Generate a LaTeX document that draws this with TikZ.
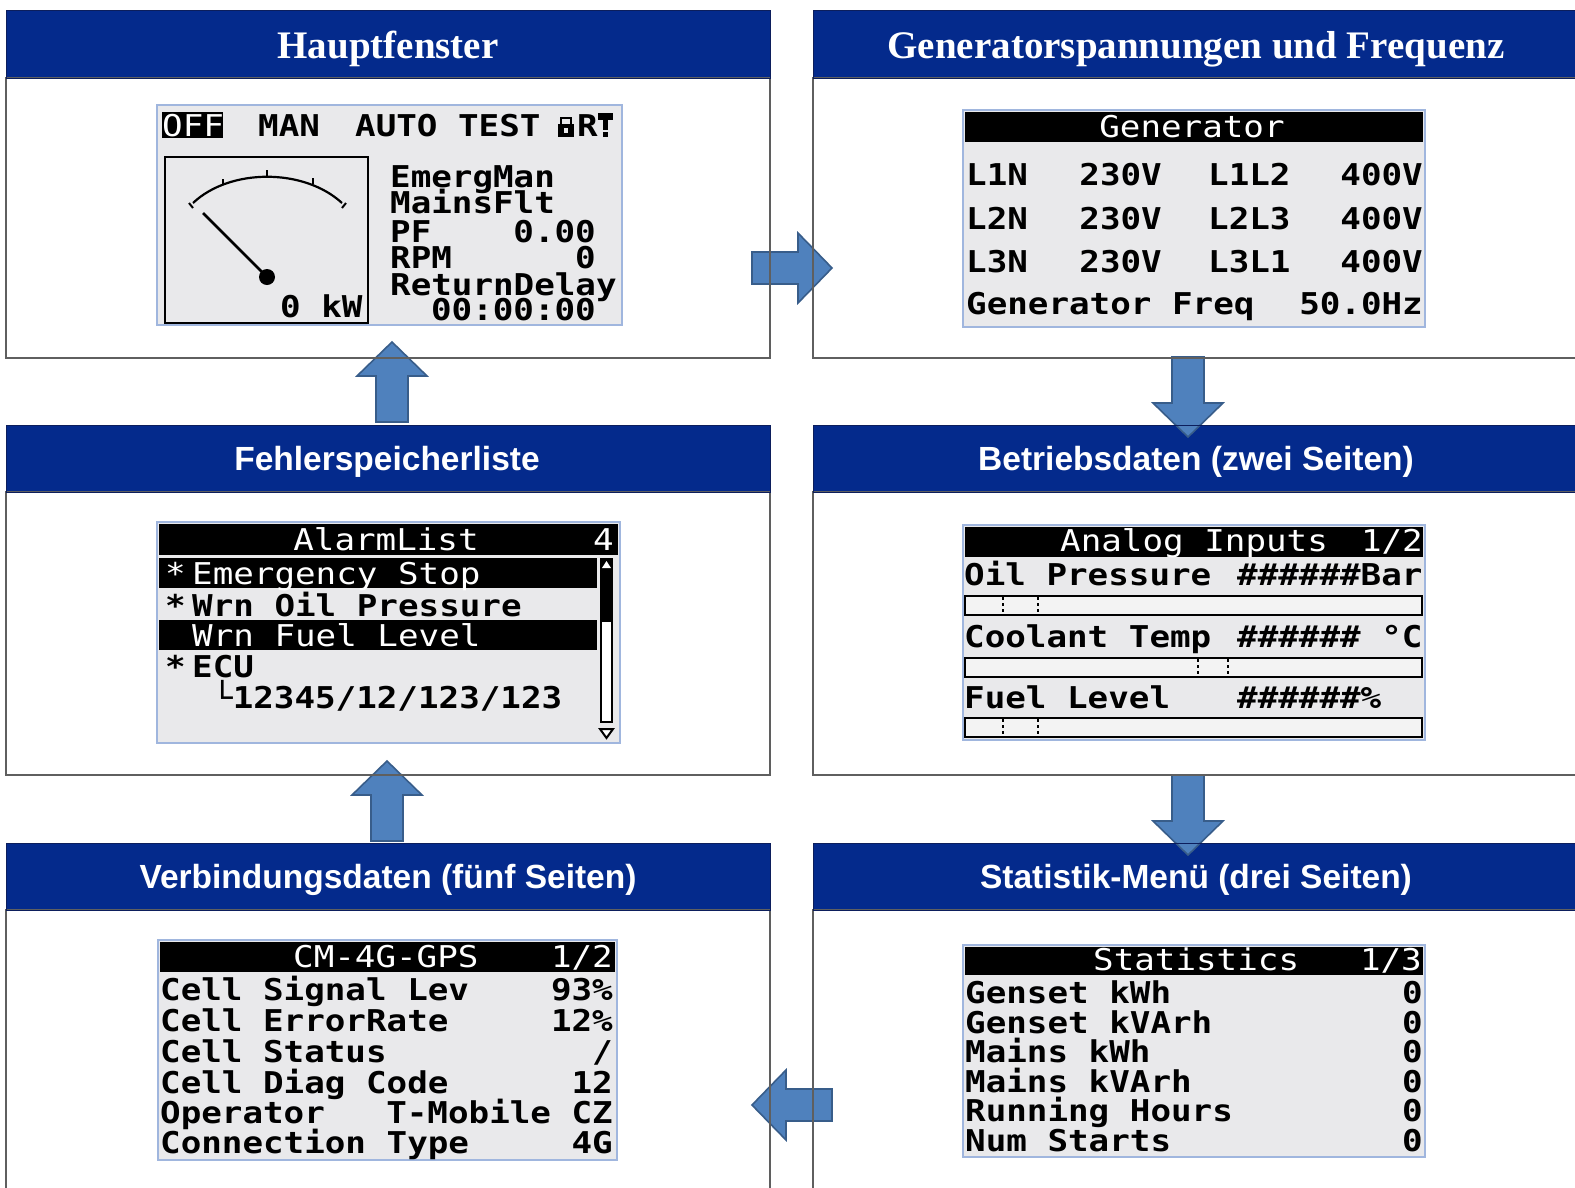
\documentclass[tikz,border=0pt]{standalone}
\usepackage{fontspec}
\setmainfont{Liberation Serif}
\newfontfamily\headsans{Liberation Sans}
\newfontfamily\lcdfont[FakeStretch=1.14]{DejaVu Sans Mono}
\definecolor{hdrblue}{RGB}{4,42,140}
\definecolor{hdredge}{RGB}{12,30,92}
\definecolor{paneledge}{RGB}{95,95,95}
\definecolor{lcdbg}{RGB}{233,233,235}
\definecolor{lcdedge}{RGB}{160,182,222}
\definecolor{barbg}{RGB}{243,243,243}
\definecolor{arrowfill}{RGB}{79,129,189}
\definecolor{arrowedge}{RGB}{56,93,138}
\tikzset{
  sertitle/.style={text=white, font=\bfseries\fontsize{39}{39}\selectfont, inner sep=0pt, anchor=base},
  sanstitle/.style={text=white, font=\headsans\bfseries\fontsize{33.5}{33.5}\selectfont, inner sep=0pt, anchor=base},
  screen/.style={fill=lcdbg, draw=lcdedge, line width=2.5pt},
  lcd/.style={font=\lcdfont\bfseries\fontsize{30}{30}\selectfont, inner sep=0pt, text=black},
  lcdinv/.style={font=\lcdfont\fontsize{30}{30}\selectfont, inner sep=0pt, text=white},
  lcdbar/.style={draw=black, fill=barbg, line width=2pt},
  lcdtick/.style={line width=2.5pt, dash pattern=on 3pt off 3pt},
  blockarrow/.style={fill=arrowfill, draw=arrowedge, line width=1.6pt, line join=miter},
}
% block arrow: tail at #1, rotated by #2 degrees (0 = pointing right)
\newcommand\blkarrow[2]{%
  \draw[blockarrow, shift={#1}, rotate=#2]
    (0,-16) -- (46,-16) -- (46,-35) -- (80,0) -- (46,35) -- (46,16) -- (0,16) -- cycle;}
\begin{document}
\begin{tikzpicture}[x=1pt, y=-1pt]
\path[use as bounding box] (0,0) rectangle (1575,1187);
\clip (0,0) rectangle (1575,1187);
\fill[white] (0,0) rectangle (1575,1187);

% panel fills
\foreach \xa/\xb in {6/770, 813/1595}{
  \foreach \ya/\yb/\yc in {10/78/358, 425/492/775, 843/910/1200}{
    \fill[hdrblue] (\xa,\ya) rectangle (\xb,\yb);
  }
}

% navigation arrows
\blkarrow{(752,268)}{0}
\blkarrow{(1188,357)}{-90}
\blkarrow{(1188,775)}{-90}
\blkarrow{(832,1105)}{180}
\blkarrow{(387,841)}{90}
\blkarrow{(392,422)}{90}

% panel borders
\foreach \xa/\xb in {6/770, 813/1595}{
  \foreach \ya/\yb/\yc in {10/78/358, 425/492/775, 843/910/1200}{
    \draw[paneledge, line width=1.5pt] (\xa,\yb) rectangle (\xb,\yc);
    \draw[hdredge, line width=1pt] (\xa,\ya) rectangle (\xb,\yb);
  }
}

% titles
\node[sertitle] (t1) at (388,58) {Hauptfenster};
\node[sertitle] (t2) at (1196,58) {Generatorspannungen und Frequenz};
\node[sanstitle] (t3) at (387,470) {Fehlerspeicherliste};
\node[sanstitle] (t4) at (1196,470) {Betriebsdaten (zwei Seiten)};
\node[sanstitle] (t5) at (388,888) {Verbindungsdaten (fünf Seiten)};
\node[sanstitle] (t6) at (1196,888) {Statistik-Menü (drei Seiten)};

% ---------- main screen ----------
\draw[screen] (157,105) rectangle (622,325);
\fill (162,112) rectangle (223,138);
\node[lcdinv, anchor=base west] (m1) at (162,136) {OFF};
\node[lcd, anchor=base west] (m2) at (258,136) {MAN};
\node[lcd, anchor=base west] (m3) at (355,136) {AUTO TEST};
% status icons
\fill (558,124) rectangle (574,137);
\draw[line width=2.5pt] (561,125) -- (561,118) -- (571,118) -- (571,125);
\fill[lcdbg] (564,128) rectangle (568,133);
\node[lcd, anchor=base west] (m4) at (577,136) {R};
\fill (598,113) rectangle (613,120);
\fill (603,120) rectangle (608,130);
\fill (603,132) rectangle (608,137);
% power gauge
\draw[line width=2.5pt] (165,157) rectangle (368,323);
\draw[line width=2.2pt] (193,203) .. controls (230,168) and (304,168) .. (342,203);
\draw[line width=2pt] (189,203) -- (193,208);
\draw[line width=2pt] (346,203) -- (342,208);
\draw[line width=2pt] (223,185) -- (223,179);
\draw[line width=2pt] (267,176) -- (267,170);
\draw[line width=2pt] (313,184) -- (313,178);
\draw[line width=2.5pt] (203,213) -- (267,277);
\fill (267,277) circle (8pt);
\node[lcd, anchor=base west] (m5) at (280,317) {0 kW};
% values
\node[lcd, anchor=base west] (m6) at (390,187) {EmergMan};
\node[lcd, anchor=base west] (m7) at (390,213) {MainsFlt};
\node[lcd, anchor=base west] (m8) at (390,242) {PF};
\node[lcd, anchor=base east] (m9) at (596,242) {0.00};
\node[lcd, anchor=base west] (m10) at (390,268) {RPM};
\node[lcd, anchor=base east] (m11) at (596,268) {0};
\node[lcd, anchor=base west] (m12) at (390,295) {ReturnDelay};
\node[lcd, anchor=base east] (m13) at (596,320) {00:00:00};

% ---------- generator screen ----------
\draw[screen] (963,110) rectangle (1425,327);
\fill (965,112) rectangle (1423,142);
\node[lcdinv, anchor=base] (g0) at (1192,137) {Generator};
\node[lcd, anchor=base west] (g1) at (966,185) {L1N};
\node[lcd, anchor=base east] (g2) at (1162,185) {230V};
\node[lcd, anchor=base west] (g3) at (1208,185) {L1L2};
\node[lcd, anchor=base east] (g4) at (1423,185) {400V};
\node[lcd, anchor=base west] (g5) at (966,229) {L2N};
\node[lcd, anchor=base east] (g6) at (1162,229) {230V};
\node[lcd, anchor=base west] (g7) at (1208,229) {L2L3};
\node[lcd, anchor=base east] (g8) at (1423,229) {400V};
\node[lcd, anchor=base west] (g9) at (966,272) {L3N};
\node[lcd, anchor=base east] (g10) at (1162,272) {230V};
\node[lcd, anchor=base west] (g11) at (1208,272) {L3L1};
\node[lcd, anchor=base east] (g12) at (1423,272) {400V};
\node[lcd, anchor=base west] (g13) at (966,314) {Generator Freq};
\node[lcd, anchor=base east] (g14) at (1423,314) {50.0Hz};

% ---------- alarm list screen ----------
\draw[screen] (157,522) rectangle (620,743);
\fill (159,524) rectangle (618,555);
\node[lcdinv, anchor=base] (a0) at (386,550) {AlarmList};
\node[lcdinv, anchor=base east] (a1) at (614,550) {4};
\fill (159,558) rectangle (597,588);
\node[lcdinv, anchor=base west] (a2) at (165,584) {*};
\node[lcdinv, anchor=base west] (a3) at (192,584) {Emergency Stop};
\node[lcd, anchor=base west] (a4) at (165,616) {*};
\node[lcd, anchor=base west] (a5) at (192,616) {Wrn Oil Pressure};
\fill (159,620) rectangle (597,650);
\node[lcdinv, anchor=base west] (a6) at (192,646) {Wrn Fuel Level};
\node[lcd, anchor=base west] (a7) at (165,677) {*};
\node[lcd, anchor=base west] (a8) at (192,677) {ECU};
\node[lcd, anchor=base west] (a9) at (212,708) {└12345/12/123/123};
% scrollbar
\fill (600,558) rectangle (613,620);
\fill[white] (602,568) -- (606.5,561) -- (611,568) -- cycle;
\draw[line width=2pt, fill=white] (601,621) rectangle (612,722);
\draw[line width=2pt, fill=white] (600,729) -- (613,729) -- (606.5,738) -- cycle;

% ---------- analog inputs screen ----------
\draw[screen] (963,525) rectangle (1425,740);
\fill (965,527) rectangle (1423,557);
\node[lcdinv, anchor=base west] (n0) at (1060,551) {Analog Inputs};
\node[lcdinv, anchor=base east] (n1) at (1423,551) {1/2};
\node[lcd, anchor=base west] (n2) at (964,585) {Oil Pressure};
\node[lcd, anchor=base west] (n3) at (1237,585) {\#\#\#\#\#\#Bar};
\draw[lcdbar] (965,596) rectangle (1422,615);
\draw[lcdtick] (1003,597) -- (1003,615);
\draw[lcdtick] (1038,597) -- (1038,615);
\node[lcd, anchor=base west] (n4) at (964,647) {Coolant Temp};
\node[lcd, anchor=base west] (n5) at (1237,647) {\#\#\#\#\#\# °C};
\draw[lcdbar] (965,658) rectangle (1422,677);
\draw[lcdtick] (1198,659) -- (1198,677);
\draw[lcdtick] (1228,659) -- (1228,677);
\node[lcd, anchor=base west] (n6) at (964,708) {Fuel Level};
\node[lcd, anchor=base west] (n7) at (1237,708) {\#\#\#\#\#\#\%};
\draw[lcdbar] (965,718) rectangle (1422,737);
\draw[lcdtick] (1003,719) -- (1003,737);
\draw[lcdtick] (1038,719) -- (1038,737);

% ---------- communication screen ----------
\draw[screen] (158,940) rectangle (617,1160);
\fill (160,942) rectangle (615,972);
\node[lcdinv, anchor=base west] (c0) at (293,967) {CM-4G-GPS};
\node[lcdinv, anchor=base east] (c1) at (613,967) {1/2};
\node[lcd, anchor=base west] (c2) at (160,1000) {Cell Signal Lev};
\node[lcd, anchor=base east] (c3) at (613,1000) {93\%};
\node[lcd, anchor=base west] (c4) at (160,1031) {Cell ErrorRate};
\node[lcd, anchor=base east] (c5) at (613,1031) {12\%};
\node[lcd, anchor=base west] (c6) at (160,1062) {Cell Status};
\node[lcd, anchor=base east] (c7) at (613,1062) {/};
\node[lcd, anchor=base west] (c8) at (160,1093) {Cell Diag Code};
\node[lcd, anchor=base east] (c9) at (613,1093) {12};
\node[lcd, anchor=base west] (c10) at (160,1123) {Operator};
\node[lcd, anchor=base east] (c11) at (613,1123) {T-Mobile CZ};
\node[lcd, anchor=base west] (c12) at (160,1153) {Connection Type};
\node[lcd, anchor=base east] (c13) at (613,1153) {4G};

% ---------- statistics screen ----------
\draw[screen] (963,945) rectangle (1425,1157);
\fill (965,947) rectangle (1423,975);
\node[lcdinv, anchor=base west] (st0) at (1093,970) {Statistics};
\node[lcdinv, anchor=base east] (st1) at (1422,970) {1/3};
\node[lcd, anchor=base west] (st2) at (965,1003) {Genset kWh};
\node[lcd, anchor=base east] (st3) at (1423,1003) {0};
\node[lcd, anchor=base west] (st4) at (965,1033) {Genset kVArh};
\node[lcd, anchor=base east] (st5) at (1423,1033) {0};
\node[lcd, anchor=base west] (st6) at (965,1062) {Mains kWh};
\node[lcd, anchor=base east] (st7) at (1423,1062) {0};
\node[lcd, anchor=base west] (st8) at (965,1092) {Mains kVArh};
\node[lcd, anchor=base east] (st9) at (1423,1092) {0};
\node[lcd, anchor=base west] (st10) at (965,1121) {Running Hours};
\node[lcd, anchor=base east] (st11) at (1423,1121) {0};
\node[lcd, anchor=base west] (st12) at (965,1151) {Num Starts};
\node[lcd, anchor=base east] (st13) at (1423,1151) {0};
\end{tikzpicture}
\end{document}
